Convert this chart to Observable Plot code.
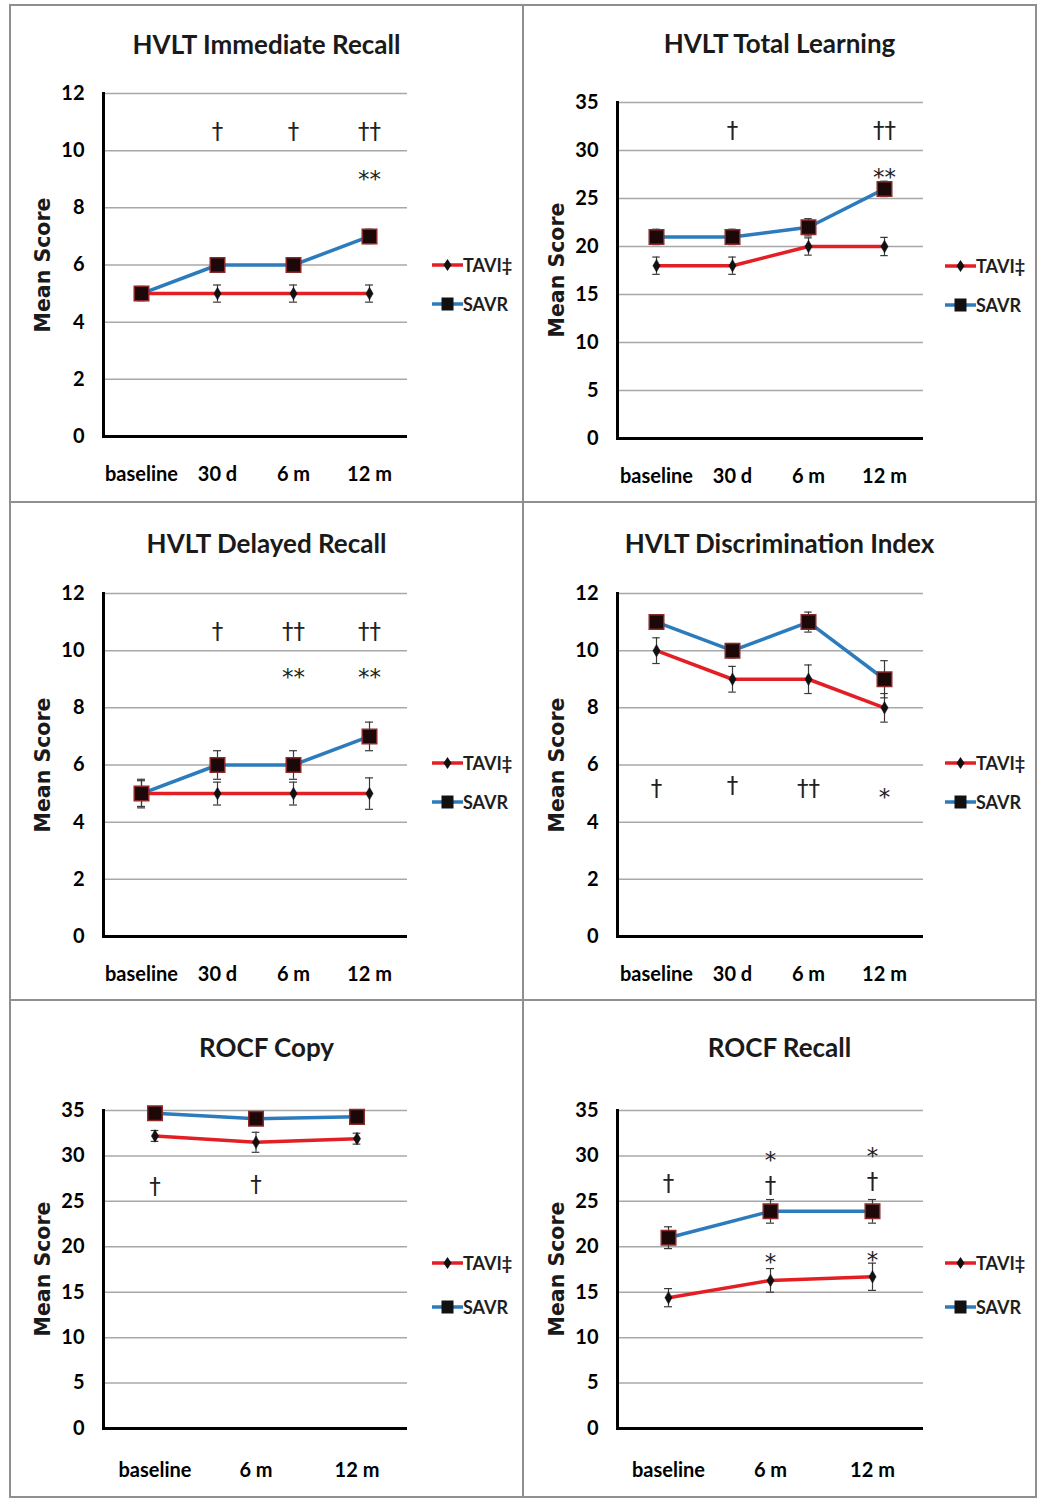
<!DOCTYPE html>
<html>
<head>
<meta charset="utf-8">
<script src="https://cdn.jsdelivr.net/npm/d3@7"></script>
<script src="https://cdn.jsdelivr.net/npm/@observablehq/plot@0.6"></script>
<style>
  body { margin: 0; background: #fff; }
  #root { position: relative; width: 1043px; height: 1499px; overflow: hidden; background: #fff; }
  .panel { position: absolute; }
  .panel > svg { position: absolute; left: 0; top: 0; }
  .title { position: absolute; left: 0; width: 100%; text-align: center; font-family: Lato, sans-serif; font-weight: bold; font-size: 26px; color: #1a1a1a; line-height: 30px; }
  .ylabel { position: absolute; font-family: "DejaVu Sans", sans-serif; font-weight: bold; font-size: 20.5px; color: #1a1a1a; white-space: nowrap; transform: translate(-50%, -50%) rotate(-90deg); line-height: 24px; }
  .legend { position: absolute; font-family: Lato, sans-serif; font-weight: bold; font-size: 18px; color: #1e1e1e; }
  .legend .item { position: absolute; left: 0; display: flex; align-items: center; white-space: nowrap; height: 20px; }
  .border { position: absolute; background: #8f8f8f; }
</style>
</head>
<body>
<div id="root"></div>
<script>
// ---------- data ----------
const cats4 = ["baseline", "30 d", "6 m", "12 m"];
const cats3 = ["baseline", "6 m", "12 m"];
const seriesNames = ["TAVI‡", "SAVR"];
const yLabel = "Mean Score";
const titles = ["HVLT Immediate Recall", "HVLT Total Learning", "HVLT Delayed Recall",
                "HVLT Discrimination Index", "ROCF Copy", "ROCF Recall"];
const ticks12 = [0, 2, 4, 6, 8, 10, 12];
const ticks35 = [0, 5, 10, 15, 20, 25, 30, 35];

// HVLT Immediate Recall
const irTavi = [5, 5, 5, 5];
const irTaviErr = [0.25, 0.3, 0.3, 0.3];
const irSavr = [5, 6, 6, 7];
const irSavrErr = [0.2, 0.25, 0.25, 0.25];
const irNoteCats = ["30 d", "6 m", "12 m", "12 m"];
const irNoteText = ["†", "†", "††", "**"];
const irNoteY = [10.7, 10.7, 10.7, 9.0];

// HVLT Total Learning
const tlTavi = [18, 18, 20, 20];
const tlTaviErr = [0.9, 0.9, 0.9, 0.95];
const tlSavr = [21, 21, 22, 26];
const tlSavrErr = [0.8, 0.8, 0.9, 0.8];
const tlNoteCats = ["30 d", "12 m", "12 m"];
const tlNoteText = ["†", "††", "**"];
const tlNoteY = [32.1, 32.1, 27.3];

// HVLT Delayed Recall
const drTavi = [5, 5, 5, 5];
const drTaviErr = [0.45, 0.4, 0.4, 0.55];
const drSavr = [5, 6, 6, 7];
const drSavrErr = [0.5, 0.5, 0.5, 0.5];
const drNoteCats = ["30 d", "6 m", "12 m", "6 m", "12 m"];
const drNoteText = ["†", "††", "††", "**", "**"];
const drNoteY = [10.7, 10.7, 10.7, 9.1, 9.1];

// HVLT Discrimination Index
const diTavi = [10, 9, 9, 8];
const diTaviErr = [0.45, 0.45, 0.5, 0.5];
const diSavr = [11, 10, 11, 9];
const diSavrErr = [0.25, 0.25, 0.35, 0.65];
const diNoteCats = ["baseline", "30 d", "6 m", "12 m"];
const diNoteText = ["†", "†", "††", "*"];
const diNoteY = [5.2, 5.3, 5.2, 4.9];

// ROCF Copy
const rcTavi = [32.2, 31.5, 31.9];
const rcTaviErr = [0.6, 1.1, 0.6];
const rcSavr = [34.7, 34.1, 34.3];
const rcSavrErr = [0.5, 0.5, 0.5];
const rcNoteCats = ["baseline", "6 m"];
const rcNoteText = ["†", "†"];
const rcNoteY = [26.7, 26.9];

// ROCF Recall
const rrTavi = [14.4, 16.3, 16.7];
const rrTaviErr = [1.0, 1.3, 1.5];
const rrSavr = [21.0, 23.9, 23.9];
const rrSavrErr = [1.2, 1.3, 1.3];
const rrNoteCats = ["baseline", "6 m", "12 m", "6 m", "12 m"];
const rrNoteText = ["†", "*\n†", "*\n†", "*", "*"];
const rrNoteY = [27.0, 28.2, 28.6, 18.3, 18.6];

// ---------- layout / style ----------
const RED = "#e31e24";
const BLUE = "#2b7bbd";

const panels = [
  {title: titles[0], cats: cats4, ticks: ticks12, ymax: 12, tavi: irTavi, taviErr: irTaviErr, savr: irSavr, savrErr: irSavrErr,
   noteCats: irNoteCats, noteText: irNoteText, noteY: irNoteY,
   left: 10, top: 5, w: 513, h: 497, ml: 93, mr: 116, mt: 88, mb: 66, titleY: 39, xpad: 30, legY: 250, legGap: 39},
  {title: titles[1], cats: cats4, ticks: ticks35, ymax: 35, tavi: tlTavi, taviErr: tlTaviErr, savr: tlSavr, savrErr: tlSavrErr,
   noteCats: tlNoteCats, noteText: tlNoteText, noteY: tlNoteY,
   left: 523, top: 5, w: 513, h: 497, ml: 94, mr: 113, mt: 97, mb: 64, titleY: 38, xpad: 30, legY: 251, legGap: 39},
  {title: titles[2], cats: cats4, ticks: ticks12, ymax: 12, tavi: drTavi, taviErr: drTaviErr, savr: drSavr, savrErr: drSavrErr,
   noteCats: drNoteCats, noteText: drNoteText, noteY: drNoteY,
   left: 10, top: 502, w: 513, h: 498, ml: 93, mr: 116, mt: 91, mb: 64, titleY: 41, xpad: 30, legY: 251, legGap: 39},
  {title: titles[3], cats: cats4, ticks: ticks12, ymax: 12, tavi: diTavi, taviErr: diTaviErr, savr: diSavr, savrErr: diSavrErr,
   noteCats: diNoteCats, noteText: diNoteText, noteY: diNoteY,
   left: 523, top: 502, w: 513, h: 498, ml: 94, mr: 113, mt: 91, mb: 64, titleY: 41, xpad: 30, legY: 251, legGap: 39},
  {title: titles[4], cats: cats3, ticks: ticks35, ymax: 35, tavi: rcTavi, taviErr: rcTaviErr, savr: rcSavr, savrErr: rcSavrErr,
   noteCats: rcNoteCats, noteText: rcNoteText, noteY: rcNoteY,
   left: 10, top: 1000, w: 513, h: 497, ml: 93, mr: 116, mt: 110, mb: 69, titleY: 47, xpad: 34, legY: 253, legGap: 44},
  {title: titles[5], cats: cats3, ticks: ticks35, ymax: 35, tavi: rrTavi, taviErr: rrTaviErr, savr: rrSavr, savrErr: rrSavrErr,
   noteCats: rrNoteCats, noteText: rrNoteText, noteY: rrNoteY,
   left: 523, top: 1000, w: 513, h: 497, ml: 94, mr: 113, mt: 110, mb: 69, titleY: 47, xpad: 34, legY: 253, legGap: 44}
];

function rows(cats, vals, errs) {
  return cats.map((c, i) => ({t: c, v: vals[i], lo: vals[i] - errs[i], hi: vals[i] + errs[i]}));
}

function markerSvg(kind, color) {
  const ns = "http://www.w3.org/2000/svg";
  const s = document.createElementNS(ns, "svg");
  s.setAttribute("width", 31); s.setAttribute("height", 20);
  const l = document.createElementNS(ns, "line");
  l.setAttribute("x1", 0); l.setAttribute("x2", 31); l.setAttribute("y1", 10); l.setAttribute("y2", 10);
  l.setAttribute("stroke", color); l.setAttribute("stroke-width", 3.5);
  s.appendChild(l);
  if (kind === "diamond") {
    const p = document.createElementNS(ns, "path");
    p.setAttribute("d", "M15.5,4 L19.5,10 L15.5,16 L11.5,10 Z");
    p.setAttribute("fill", "#111");
    s.appendChild(p);
  } else {
    const r = document.createElementNS(ns, "rect");
    r.setAttribute("x", 9.5); r.setAttribute("y", 3.5); r.setAttribute("width", 12); r.setAttribute("height", 13);
    r.setAttribute("fill", "#111");
    s.appendChild(r);
  }
  return s;
}

const root = document.getElementById("root");

for (const p of panels) {
  const div = document.createElement("div");
  div.className = "panel";
  Object.assign(div.style, {left: p.left + "px", top: p.top + "px", width: p.w + "px", height: p.h + "px"});

  const tavi = rows(p.cats, p.tavi, p.taviErr);
  const savr = rows(p.cats, p.savr, p.savrErr);
  const notes = p.noteCats.map((c, i) => ({t: c, y: p.noteY[i], s: p.noteText[i]}));
  const bw = (p.w - p.ml - p.mr) / p.cats.length;
  const capInset = bw / 2 - 4;
  const errStyle = {stroke: "#3a3a3a", strokeWidth: 1.2};

  const chart = Plot.plot({
    width: p.w, height: p.h,
    marginLeft: p.ml, marginRight: p.mr, marginTop: p.mt, marginBottom: p.mb,
    style: "font-family: Lato, sans-serif; font-weight: bold; font-size: 20px; color: #000; background: transparent; overflow: visible;",
    x: {type: "band", domain: p.cats, padding: 0},
    y: {domain: [0, p.ymax]},
    marks: [
      Plot.gridY(p.ticks, {stroke: "#a8a8a8", strokeOpacity: 1, strokeWidth: 1.5}),
      Plot.axisY(p.ticks, {tickSize: 0, tickPadding: 19, label: null, fontSize: 20}),
      Plot.axisX({tickSize: 0, tickPadding: p.xpad, label: null, fontSize: 20}),
      Plot.lineY(tavi, {x: "t", y: "v", stroke: RED, strokeWidth: 3.5}),
      Plot.lineY(savr, {x: "t", y: "v", stroke: BLUE, strokeWidth: 3.5}),
      Plot.ruleX(tavi, {x: "t", y1: "lo", y2: "hi", ...errStyle}),
      Plot.tickY(tavi, {x: "t", y: "lo", insetLeft: capInset, insetRight: capInset, ...errStyle}),
      Plot.tickY(tavi, {x: "t", y: "hi", insetLeft: capInset, insetRight: capInset, ...errStyle}),
      Plot.ruleX(savr, {x: "t", y1: "lo", y2: "hi", ...errStyle}),
      Plot.tickY(savr, {x: "t", y: "lo", insetLeft: capInset, insetRight: capInset, ...errStyle}),
      Plot.tickY(savr, {x: "t", y: "hi", insetLeft: capInset, insetRight: capInset, ...errStyle}),
      Plot.dot(tavi, {x: "t", y: "v", symbol: "diamond", r: 3.8, fill: "#111", stroke: "#111", strokeWidth: 0.5}),
      Plot.dot(savr, {x: "t", y: "v", symbol: "square", r: 8.2, fill: "#1c0808", stroke: "#8a2a2a", strokeWidth: 1.5}),
      Plot.text(notes, {x: "t", y: "y", text: "s", fontFamily: "DejaVu Sans", fontSize: 23, fontWeight: "normal",
        lineHeight: 1.1, fill: "#222"}),
      Plot.ruleY([0], {stroke: "#000", strokeWidth: 3}),
      Plot.frame({anchor: "left", stroke: "#000", strokeWidth: 3})
    ]
  });
  div.appendChild(chart);

  const t = document.createElement("div");
  t.className = "title";
  t.textContent = p.title;
  t.style.top = (p.titleY - 15) + "px";
  div.appendChild(t);

  const yl = document.createElement("div");
  yl.className = "ylabel";
  yl.textContent = yLabel;
  yl.style.left = (p.ml - 60) + "px";
  yl.style.top = ((p.mt + p.h - p.mb) / 2) + "px";
  div.appendChild(yl);

  const leg = document.createElement("div");
  leg.className = "legend";
  leg.style.left = "422px";
  leg.style.top = p.legY + "px";
  seriesNames.forEach((name, i) => {
    const item = document.createElement("div");
    item.className = "item";
    item.style.top = (i * p.legGap) + "px";
    item.appendChild(markerSvg(i === 0 ? "diamond" : "square", i === 0 ? RED : BLUE));
    const sp = document.createElement("span");
    sp.textContent = name;
    item.appendChild(sp);
    leg.appendChild(item);
  });
  div.appendChild(leg);

  root.appendChild(div);
}

// panel borders
const borders = [
  {left: 9, top: 4, width: 1028, height: 2},
  {left: 9, top: 501, width: 1028, height: 2},
  {left: 9, top: 999, width: 1028, height: 2},
  {left: 9, top: 1496, width: 1028, height: 2},
  {left: 9, top: 4, width: 2, height: 1494},
  {left: 522, top: 4, width: 2, height: 1494},
  {left: 1035, top: 4, width: 2, height: 1494}
];
for (const b of borders) {
  const d = document.createElement("div");
  d.className = "border";
  Object.assign(d.style, {left: b.left + "px", top: b.top + "px", width: b.width + "px", height: b.height + "px"});
  root.appendChild(d);
}
</script>
</body>
</html>
